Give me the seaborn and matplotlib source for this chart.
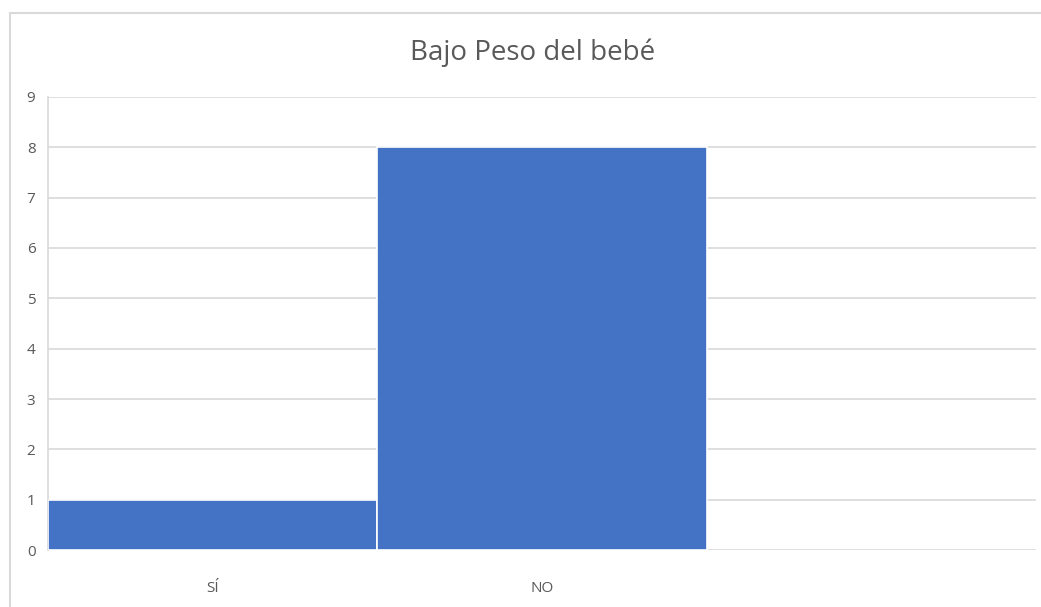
import matplotlib
matplotlib.use("Agg")
import matplotlib.pyplot as plt
import seaborn as sns
import pandas as pd
from matplotlib.patches import Rectangle

categories = ["SÍ", "NO"]
values = [1, 8]
title = "Bajo Peso del bebé"
y_ticks = list(range(0, 10))

sns.set_theme(style="white")
plt.rcParams["font.family"] = ["Open Sans", "DejaVu Sans"]

df = pd.DataFrame({"cat": categories, "val": values})

fig = plt.figure(figsize=(10.41, 6.07), dpi=100)
ax = fig.add_axes([0.0461, 0.0939, 0.9491, 0.7463])

sns.barplot(data=df, x="cat", y="val", color="#4472C4", saturation=1,
            width=1.0, edgecolor="white", linewidth=1.2, ax=ax, zorder=3)

ax.set_xlim(-0.5, 2.5)
ax.set_ylim(0, 9)
ax.set_yticks(y_ticks)
ax.set_xticks([0, 1, 2])
ax.set_xticklabels(categories + [""])
ax.yaxis.grid(True, color="#d9d9d9", linewidth=1.2, zorder=0)
ax.set_axisbelow(True)
ax.set_xlabel("")
ax.set_ylabel("")

for side in ["top", "right", "bottom"]:
    ax.spines[side].set_visible(False)
ax.spines["left"].set_color("#d9d9d9")
ax.spines["left"].set_linewidth(1.2)

ax.tick_params(axis="both", length=0, colors="#595959", labelsize=11)
ax.tick_params(axis="x", pad=22)
ax.tick_params(axis="y", pad=9)

fig.text(0.512, 0.913, title, ha="center", va="center",
         fontsize=20, color="#595959")

# chart frame
fig.patches.append(Rectangle((10 / 1041, -0.1), 1.2, 1 - 13 / 607 + 0.1,
                             transform=fig.transFigure, fill=False,
                             edgecolor="#d9d9d9", linewidth=1.5))

fig.savefig("out.png", dpi=100)
